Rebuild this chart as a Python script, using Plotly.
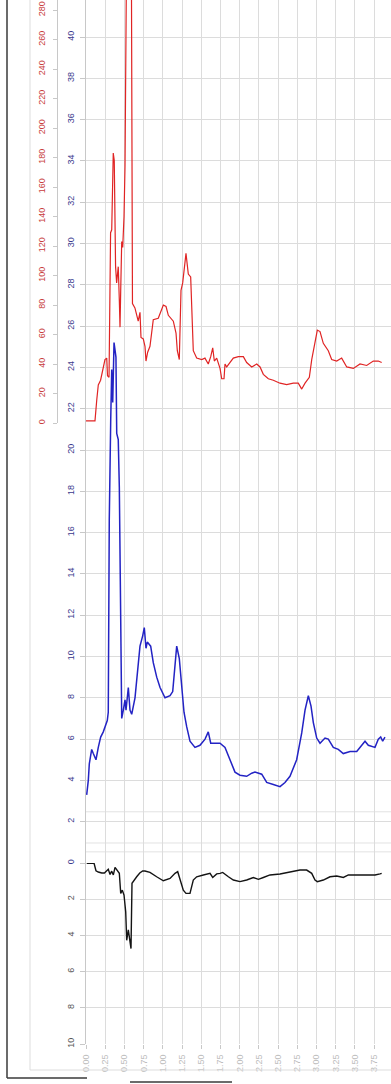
import plotly.graph_objects as go

# ---------------- data ----------------
depth_red = [0.0, 0.117, 0.14, 0.16, 0.19, 0.225, 0.247, 0.27, 0.28, 0.30, 0.32, 0.335, 0.355, 0.368,
             0.385, 0.399, 0.42, 0.434, 0.443, 0.452, 0.465, 0.478, 0.495, 0.508, 0.53, 0.59, 0.605,
             0.637, 0.68, 0.703, 0.716, 0.746, 0.768, 0.781, 0.803, 0.833, 0.855, 0.876, 0.941, 1.007,
             1.042, 1.072, 1.137, 1.172, 1.189, 1.215, 1.237, 1.259, 1.302, 1.332, 1.363, 1.397, 1.441,
             1.507, 1.549, 1.592, 1.624, 1.650, 1.671, 1.702, 1.745, 1.767, 1.797, 1.810, 1.832, 1.875,
             1.918, 1.984, 2.049, 2.092, 2.158, 2.223, 2.266, 2.309, 2.374, 2.439, 2.526, 2.613, 2.699,
             2.764, 2.809, 2.852, 2.908, 2.939, 2.982, 3.012, 3.047, 3.090, 3.155, 3.199, 3.264, 3.329,
             3.395, 3.481, 3.568, 3.655, 3.741, 3.806, 3.85]
red_vals = [1.5, 1.5, 15.6, 25.8, 29, 37, 43, 44, 32, 31, 129, 131, 183, 178,
            106, 95, 106, 83, 65, 90, 123, 119, 140, 174, 330, 330, 81,
            78, 69, 75, 58, 57, 52, 42, 48, 52, 61, 70, 71, 80,
            79, 73, 69, 61, 49, 43, 90, 95, 115, 101, 99, 49, 44,
            43, 44, 40, 45, 51, 42, 44, 37, 30, 30, 40, 38, 41,
            44, 45, 45, 41, 38, 40, 38, 33, 30, 29, 27, 26, 27,
            27, 23, 27, 31, 43, 54, 63, 62, 54, 49, 43, 42, 44,
            38, 37, 40, 39, 42, 42, 41]

depth_blue = [0.009, 0.03, 0.043, 0.074, 0.095, 0.13, 0.16, 0.191, 0.225, 0.26, 0.277, 0.29, 0.303,
              0.322, 0.335, 0.348, 0.365, 0.39, 0.40, 0.42, 0.434, 0.452, 0.465, 0.486, 0.508, 0.521,
              0.551, 0.573, 0.595, 0.638, 0.668, 0.703, 0.738, 0.759, 0.781, 0.798, 0.842, 0.876,
              0.921, 0.964, 1.029, 1.094, 1.129, 1.15, 1.181, 1.215, 1.246, 1.276, 1.311, 1.354,
              1.419, 1.484, 1.55, 1.592, 1.624, 1.658, 1.745, 1.81, 1.875, 1.94, 2.005, 2.092, 2.158,
              2.2, 2.288, 2.353, 2.439, 2.526, 2.591, 2.656, 2.743, 2.809, 2.852, 2.895, 2.93, 2.96,
              3.004, 3.047, 3.112, 3.155, 3.22, 3.285, 3.35, 3.438, 3.525, 3.59, 3.633, 3.676, 3.763,
              3.806, 3.837, 3.863, 3.893]
blue_vals = [3.3, 4.0, 4.8, 5.5, 5.3, 5.0, 5.6, 6.1, 6.35, 6.7, 6.9, 7.3, 16.6,
             21.5, 23.9, 22.3, 25.2, 24.5, 20.8, 20.5, 18.2, 11.8, 7.0, 7.4, 7.9, 7.4,
             8.5, 7.4, 7.2, 8.0, 9.2, 10.5, 11.0, 11.4, 10.4, 10.7, 10.5, 9.7,
             9.0, 8.5, 8.0, 8.1, 8.3, 9.3, 10.5, 9.9, 8.5, 7.3, 6.6, 5.9,
             5.6, 5.7, 6.0, 6.35, 5.8, 5.8, 5.8, 5.6, 5.0, 4.4, 4.25, 4.2, 4.35,
             4.4, 4.3, 3.9, 3.8, 3.7, 3.9, 4.2, 5.0, 6.3, 7.4, 8.1, 7.6, 6.8,
             6.05, 5.8, 6.05, 6.0, 5.6, 5.5, 5.3, 5.4, 5.4, 5.7, 5.9, 5.7, 5.6,
             6.0, 6.1, 5.9, 6.1]

depth_black = [0.009, 0.104, 0.13, 0.16, 0.205, 0.24, 0.29, 0.313, 0.335, 0.356, 0.378, 0.408,
               0.434, 0.452, 0.473, 0.495, 0.517, 0.53, 0.551, 0.564, 0.586, 0.599, 0.625, 0.66,
               0.7, 0.738, 0.768, 0.833, 0.92, 1.007, 1.094, 1.159, 1.194, 1.224, 1.267, 1.302,
               1.354, 1.397, 1.441, 1.528, 1.615, 1.650, 1.702, 1.745, 1.780, 1.854, 1.919, 2.005,
               2.092, 2.179, 2.245, 2.309, 2.396, 2.526, 2.656, 2.786, 2.873, 2.939, 2.982, 3.012,
               3.090, 3.177, 3.264, 3.351, 3.416, 3.525, 3.655, 3.763, 3.828, 3.85]
black_vals = [0.02, 0.0, 0.43, 0.5, 0.55, 0.55, 0.35, 0.63, 0.45, 0.66, 0.24, 0.39,
              0.57, 1.68, 1.5, 1.77, 2.7, 4.27, 3.7, 4.08, 4.73, 1.12, 0.94, 0.76,
              0.55, 0.44, 0.44, 0.52, 0.76, 0.98, 0.85, 0.57, 0.48, 0.85, 1.5, 1.68,
              1.68, 0.94, 0.76, 0.66, 0.57, 0.8, 0.6, 0.57, 0.52, 0.76, 0.94, 1.03,
              0.94, 0.8, 0.9, 0.8, 0.66, 0.61, 0.52, 0.39, 0.39, 0.57, 0.94, 1.03,
              0.94, 0.76, 0.72, 0.8, 0.66, 0.65, 0.63, 0.66, 0.6, 0.57]

depth_ticks = [i * 0.25 for i in range(16)]
depth_labels = ["%.2f" % v for v in depth_ticks]
red_ticks = list(range(0, 281, 20))
blue_ticks = list(range(0, 41, 2))
black_ticks = [2, 4, 6, 8, 10]
extra_grid_blue = [2.48, 0.97, 0.54]

# ---------------- layout geometry ----------------
W, H = 391, 1084
B = 40                      # bottom margin
PH = H - B                  # plot-area height
X0 = 86                     # left edge of the data area
PXU = 76.8                  # pixels per depth unit


def fy(py):
    return (PH - py) / PH


blue_bottom = fy(863)
red_bottom = fy(423)
x_max = (W - X0) / PXU
blue_top = 863 / 20.65
red_top = 423 / 1.475

FONT = "Liberation Sans, Arial, sans-serif"
GRID = "#dcdcdc"
LINE = "#c8c8c8"

fig = go.Figure()
fig.add_trace(go.Scatter(x=depth_blue, y=blue_vals, xaxis="x", yaxis="y", mode="lines",
                         line=dict(color="#2323c4", width=1.5), showlegend=False))
fig.add_trace(go.Scatter(x=depth_red, y=red_vals, xaxis="x2", yaxis="y2", mode="lines",
                         line=dict(color="#e02424", width=1.2), showlegend=False))
fig.add_trace(go.Scatter(x=depth_black, y=black_vals, xaxis="x", yaxis="y3", mode="lines",
                         line=dict(color="#141414", width=1.4), showlegend=False))

fig.update_layout(
    width=W, height=H,
    margin=dict(l=0, r=0, t=0, b=B, pad=0, autoexpand=False),
    paper_bgcolor="white", plot_bgcolor="rgba(0,0,0,0)",
    font=dict(family=FONT, size=9),
    xaxis=dict(domain=[X0 / W, 1], range=[0, x_max], tickvals=depth_ticks, ticktext=depth_labels,
               tickangle=-90, tickfont=dict(size=9, color="#bcbcbc"), showgrid=True,
               gridcolor=GRID, gridwidth=1, zeroline=False, showline=False, ticks="outside",
               ticklen=4, tickcolor=LINE, anchor="y3", ticklabelstandoff=2, automargin=False),
    xaxis2=dict(domain=[X0 / W, 1], range=[0, x_max], visible=False, anchor="y2",
                automargin=False),
    yaxis=dict(domain=[blue_bottom, 1], range=[0, blue_top], tickvals=blue_ticks,
               tickangle=-90, tickfont=dict(size=9, color="#3a3a8e"), showgrid=True,
               gridcolor=GRID, gridwidth=1, zeroline=False, showline=True, linecolor=LINE,
               ticks="outside", ticklen=5, tickcolor=LINE, anchor="x", ticklabelstandoff=2,
               automargin=False),
    yaxis2=dict(domain=[red_bottom, 1], range=[0, red_top], tickvals=red_ticks,
                tickangle=-90, tickfont=dict(size=9, color="#c83c3c"), showgrid=False,
                zeroline=False, showline=True, linecolor=LINE, ticks="outside", ticklen=4,
                tickcolor=LINE, anchor="free", position=57 / W, side="left",
                ticklabelstandoff=4, automargin=False),
    yaxis3=dict(domain=[0, blue_bottom], range=[10, 0], tickvals=black_ticks,
                tickangle=-90, tickfont=dict(size=9, color="#555555"), showgrid=True,
                gridcolor=GRID, gridwidth=1, zeroline=False, showline=True, linecolor=LINE,
                ticks="outside", ticklen=5, tickcolor=LINE, anchor="x", ticklabelstandoff=2,
                automargin=False),
)

shapes = []
for g in extra_grid_blue:
    shapes.append(dict(type="line", xref="x", yref="y", x0=0, x1=x_max, y0=g, y1=g,
                       line=dict(color="#e2e2e2", width=1), layer="below"))
# outer / inner frames of the original screenshot
shapes += [
    dict(type="line", xref="paper", yref="paper", x0=30 / W, x1=30 / W, y0=1.0, y1=fy(1070),
         line=dict(color="#dddddd", width=1)),
    dict(type="line", xref="paper", yref="paper", x0=30 / W, x1=1.0, y0=fy(1070), y1=fy(1070),
         line=dict(color="#dddddd", width=1)),
    dict(type="line", xref="paper", yref="paper", x0=7 / W, x1=7 / W, y0=1.0, y1=fy(1078),
         line=dict(color="#3a3a3a", width=1.5)),
    dict(type="line", xref="paper", yref="paper", x0=7 / W, x1=87 / W, y0=fy(1078), y1=fy(1078),
         line=dict(color="#3a3a3a", width=1.5)),
    dict(type="line", xref="paper", yref="paper", x0=130 / W, x1=232 / W, y0=fy(1082), y1=fy(1082),
         line=dict(color="#3a3a3a", width=1.5)),
]
fig.update_layout(shapes=shapes)

fig.write_html("out.html")
